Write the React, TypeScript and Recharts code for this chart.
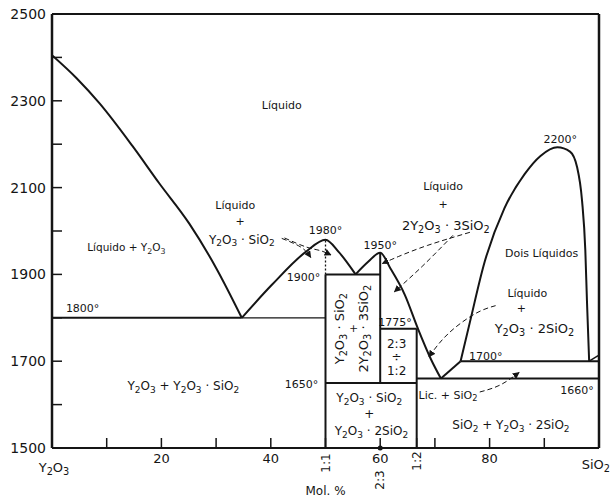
import React from "react"
import { LineChart, Line, XAxis, YAxis, ReferenceLine, ReferenceDot, Label } from "recharts"

const FONT = "'DejaVu Sans', sans-serif"
const INK = "#151515"

// mol % SiO2 on x, temperature (°C) on y
const X_TICKS = [0, 10, 20, 30, 40, 50, 60, 66.67, 70, 80, 90, 100]
const T_TICKS = [1500, 1600, 1700, 1800, 1900, 2000, 2100, 2200, 2300, 2400, 2500]
const T_LABELED = [1500, 1700, 1900, 2100, 2300, 2500]

// liquidus curves
const liqY2O3X = [0, 4.5, 8.7, 14.7, 19.6, 25.1, 30, 34.7]
const liqY2O3T = [2405, 2352, 2294, 2196, 2110, 2017, 1915, 1800]

const liq11X = [34.7, 40.2, 46.4, 50, 52.4, 55.5]
const liq11T = [1800, 1876, 1952, 1980, 1952, 1900]

const liq23X = [55.5, 57.8, 60, 61.9, 64.5, 66.9, 69.3, 71.1]
const liq23T = [1900, 1929, 1950, 1913, 1853, 1775, 1704, 1660]

const riseX = [71.1, 74.7]
const riseT = [1660, 1700]

// two-liquid dome
const domeX = [74.7, 76.4, 79.1, 82.7, 86.4, 89.3, 92.4, 94.7, 96, 96.9, 97.5, 97.8, 98.2]
const domeT = [1700, 1790, 1929, 2052, 2131, 2173, 2193, 2183, 2147, 2070, 1955, 1838, 1700]

const tailX = [98.2, 100]
const tailT = [1700, 1714]

// straight phase boundaries [x1, t1, x2, t2]
const BOUNDS = [
  [0, 1800, 34.7, 1800],
  [50, 1500, 50, 1900],
  [50, 1900, 60, 1900],
  [60, 1650, 60, 1950],
  [60, 1775, 66.67, 1775],
  [66.67, 1500, 66.67, 1775],
  [50, 1650, 66.67, 1650],
  [66.67, 1660, 100, 1660],
  [74.7, 1700, 100, 1700],
]
const THIN_BOUNDS = [[34.7, 1800, 50, 1800]]
const DOTTED_BOUNDS = [[50, 1900, 50, 1980]]

// leader lines from labels to their fields
const leadA1X = [42, 45.6, 47.3]
const leadA1T = [1983, 1962, 1939]
const leadA2X = [42.5, 46.5, 49, 51]
const leadA2T = [1984, 1963, 1955, 1945]
const leadB1X = [76.4, 68.7, 63.3, 60.4]
const leadB1T = [1997, 1967, 1941, 1925]
const leadB2X = [73.3, 67.8, 62.6]
const leadB2T = [1990, 1920, 1860]
const leadCX = [81.1, 77.3, 72.4, 68.9]
const leadCT = [1828, 1809, 1763, 1710]
const leadDX = [78.2, 81.9, 85.4]
const leadDT = [1629, 1645, 1674]

const NOTES = [
  { x: 42, t: 2290, text: "Líquido" },
  { x: 13.6, t: 1962, text: "Líquido + Y_2O_3", size: 10.5 },
  { x: 33.5, t: 2061, text: "Líquido" },
  { x: 34.4, t: 2022, text: "+" },
  { x: 34.7, t: 1980, text: "Y_2O_3 · SiO_2", size: 12 },
  { x: 50, t: 2003, text: "1980°" },
  { x: 60, t: 1968, text: "1950°" },
  { x: 46, t: 1895, text: "1900°" },
  { x: 71.5, t: 2103, text: "Líquido" },
  { x: 71.5, t: 2063, text: "+" },
  { x: 72, t: 2013, text: "2Y_2O_3 · 3SiO_2", size: 13 },
  { x: 92.9, t: 2211, text: "2200°" },
  { x: 89.5, t: 1950, text: "Dois Líquidos" },
  { x: 86.9, t: 1856, text: "Líquido" },
  { x: 85.8, t: 1823, text: "+" },
  { x: 88.2, t: 1777, text: "Y_2O_3 · 2SiO_2", size: 13 },
  { x: 79.3, t: 1712, text: "1700°" },
  { x: 5.6, t: 1823, text: "1800°" },
  { x: 62.7, t: 1791, text: "1775°" },
  { x: 63, t: 1740, text: "2:3", size: 12 },
  { x: 63, t: 1710, text: "÷", size: 12 },
  { x: 63, t: 1678, text: "1:2", size: 12 },
  { x: 45.6, t: 1648, text: "1650°" },
  { x: 24, t: 1643, text: "Y_2O_3 + Y_2O_3 · SiO_2", size: 12 },
  { x: 52.4, t: 1775, text: "Y_2O_3 · SiO_2", size: 13, rot: -90 },
  { x: 55.1, t: 1775, text: "+", rot: -90 },
  { x: 56.9, t: 1775, text: "2Y_2O_3 · 3SiO_2", size: 13, rot: -90 },
  { x: 58, t: 1615, text: "Y_2O_3 · SiO_2", size: 12 },
  { x: 58, t: 1578, text: "+", size: 12 },
  { x: 58.4, t: 1539, text: "Y_2O_3 · 2SiO_2", size: 12 },
  { x: 72.4, t: 1622, text: "Lic. + SiO_2" },
  { x: 96, t: 1634, text: "1660°" },
  { x: 83.9, t: 1553, text: "SiO_2 + Y_2O_3 · 2SiO_2", size: 12 },
]

const zip = (xs: number[], ts: number[]) => xs.map((x, i) => ({ x, t: ts[i] }))

function Chem({ x, y, text, size = 11, anchor = "middle", rot = 0 }: any) {
  const parts = text.split(/(_\d)/).filter(Boolean)
  const shift = size * 0.3
  let down = false
  const spans = parts.map((p: string, i: number) => {
    if (p.startsWith("_")) {
      const s = (
        <tspan key={i} dy={down ? 0 : shift} fontSize={size * 0.75}>
          {p.slice(1)}
        </tspan>
      )
      down = true
      return s
    }
    const dy = down ? -shift : 0
    down = false
    return (
      <tspan key={i} dy={dy}>
        {p}
      </tspan>
    )
  })
  return (
    <text
      x={x}
      y={y}
      textAnchor={anchor}
      dominantBaseline="central"
      fontSize={size}
      fontFamily={FONT}
      fill={INK}
      transform={rot ? `rotate(${rot} ${x} ${y})` : undefined}
      style={{ whiteSpace: "pre" }}
    >
      {spans}
    </text>
  )
}

function XTick({ x, y, payload }: any) {
  const v = payload.value
  const axisY = y - 6
  if (v === 0) return <Chem x={x + 2} y={axisY + 19} text="Y_2O_3" size={13} />
  if (v === 100) return <Chem x={x + 11} y={axisY + 16} text="SiO_2" size={13} anchor="end" />
  if (v === 50) return <Chem x={x} y={axisY + 15} text="1:1" size={12} rot={-90} />
  if (Math.abs(v - 66.67) < 0.1) return <Chem x={x} y={axisY + 13} text="1:2" size={12} rot={-90} />
  if (v === 60)
    return (
      <g>
        <circle cx={x} cy={axisY} r={2.5} fill={INK} />
        <Chem x={x} y={axisY + 10} text="60" size={13} />
        <Chem x={x} y={axisY + 32} text="2:3" size={12} rot={-90} />
      </g>
    )
  if (v === 20 || v === 40 || v === 80) return <Chem x={x} y={axisY + 10} text={String(v)} size={13} />
  return <g />
}

const curve = (xs: number[], ts: number[], w = 2) => (
  <Line
    data={zip(xs, ts)}
    dataKey="t"
    type="monotone"
    stroke={INK}
    strokeWidth={w}
    dot={false}
    activeDot={false}
    isAnimationActive={false}
  />
)

const leader = (xs: number[], ts: number[]) => (
  <Line
    data={zip(xs, ts)}
    dataKey="t"
    type="natural"
    stroke={INK}
    strokeWidth={1}
    strokeDasharray="5 3"
    markerEnd="url(#arrowhead)"
    dot={false}
    activeDot={false}
    isAnimationActive={false}
  />
)

export default function App() {
  return (
    <div style={{ position: "absolute", left: 0, top: 0, width: 612, height: 497, background: "#fff" }}>
      <svg width={0} height={0} style={{ position: "absolute" }}>
        <defs>
          <marker id="arrowhead" viewBox="0 0 10 10" refX="9" refY="5" markerWidth="7" markerHeight="7" markerUnits="userSpaceOnUse" orient="auto">
            <path d="M0,0 L10,5 L0,10 z" fill={INK} />
          </marker>
        </defs>
      </svg>
      <LineChart width={612} height={497} margin={{ top: 0, right: 0, bottom: 0, left: 0 }}>
        <XAxis
          dataKey="x"
          type="number"
          domain={[0, 100]}
          ticks={X_TICKS}
          interval={0}
          height={49}
          tickSize={-10}
          tickMargin={16}
          axisLine={{ stroke: INK, strokeWidth: 2 }}
          tickLine={{ stroke: INK, strokeWidth: 1.5 }}
          tick={<XTick />}
          allowDataOverflow
        >
          <Label value="Mol. %" position="insideBottom" offset={2} fontSize={12} fontFamily={FONT} fill={INK} />
        </XAxis>
        <XAxis
          xAxisId="top"
          orientation="top"
          type="number"
          domain={[0, 100]}
          ticks={X_TICKS.filter((v) => v % 10 === 0)}
          height={14}
          tickSize={-10}
          tick={false}
          axisLine={{ stroke: INK, strokeWidth: 2 }}
          tickLine={{ stroke: INK, strokeWidth: 1.5 }}
          allowDataOverflow
        />
        <YAxis
          type="number"
          domain={[1500, 2500]}
          ticks={T_TICKS}
          interval={0}
          width={52}
          tickSize={-10}
          tickMargin={16}
          tickFormatter={(v: number) => (T_LABELED.includes(v) ? String(v) : "")}
          axisLine={{ stroke: INK, strokeWidth: 2.5 }}
          tickLine={{ stroke: INK, strokeWidth: 1.5 }}
          tick={{ fill: INK, fontSize: 14, fontFamily: FONT }}
          allowDataOverflow
        />
        <YAxis
          yAxisId="right"
          orientation="right"
          type="number"
          domain={[1500, 2500]}
          ticks={T_TICKS}
          width={13}
          tickSize={-10}
          tick={false}
          axisLine={{ stroke: INK, strokeWidth: 2.5 }}
          tickLine={{ stroke: INK, strokeWidth: 1.5 }}
          allowDataOverflow
        />

        {BOUNDS.map(([x1, t1, x2, t2], i) => (
          <ReferenceLine
            key={`b${i}`}
            segment={[{ x: x1, y: t1 }, { x: x2, y: t2 }]}
            stroke={INK}
            strokeWidth={2}
            ifOverflow="visible"
          />
        ))}
        {THIN_BOUNDS.map(([x1, t1, x2, t2], i) => (
          <ReferenceLine
            key={`tb${i}`}
            segment={[{ x: x1, y: t1 }, { x: x2, y: t2 }]}
            stroke={INK}
            strokeWidth={1.3}
            ifOverflow="visible"
          />
        ))}
        {DOTTED_BOUNDS.map(([x1, t1, x2, t2], i) => (
          <ReferenceLine
            key={`db${i}`}
            segment={[{ x: x1, y: t1 }, { x: x2, y: t2 }]}
            stroke={INK}
            strokeWidth={1.3}
            strokeDasharray="2 2"
            ifOverflow="visible"
          />
        ))}

        {curve(liqY2O3X, liqY2O3T)}
        {curve(liq11X, liq11T)}
        {curve(liq23X, liq23T)}
        {curve(riseX, riseT)}
        {curve(domeX, domeT)}
        {curve(tailX, tailT, 1.5)}

        {leader(leadA1X, leadA1T)}
        {leader(leadA2X, leadA2T)}
        {leader(leadB1X, leadB1T)}
        {leader(leadB2X, leadB2T)}
        {leader(leadCX, leadCT)}
        {leader(leadDX, leadDT)}

        {NOTES.map((n, i) => (
          <ReferenceDot
            key={`n${i}`}
            x={n.x}
            y={n.t}
            r={0}
            fill="none"
            stroke="none"
            ifOverflow="visible"
            label={{
              content: (p: any) => {
                const vb = p.viewBox || {}
                return (
                  <Chem
                    x={(vb.x ?? 0) + (vb.width ?? 0) / 2}
                    y={(vb.y ?? 0) + (vb.height ?? 0) / 2}
                    text={n.text}
                    size={n.size ?? 11}
                    rot={n.rot ?? 0}
                  />
                )
              },
            }}
          />
        ))}
      </LineChart>
    </div>
  )
}
